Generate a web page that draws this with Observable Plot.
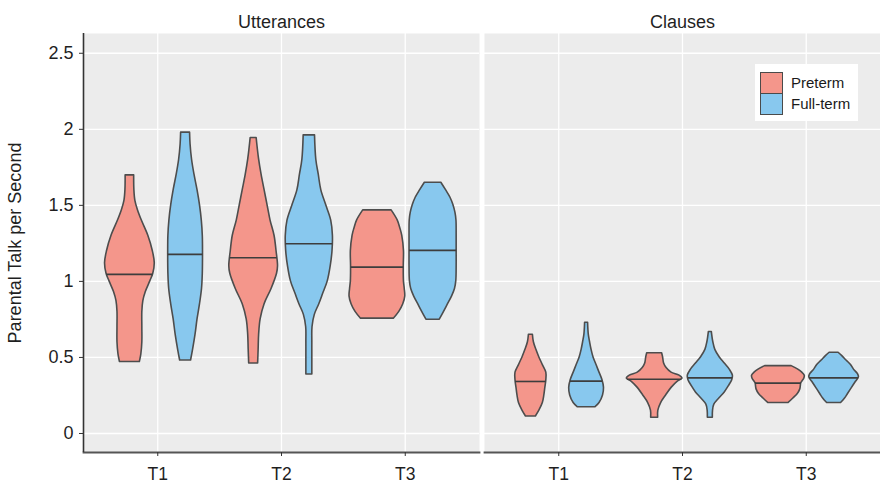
<!DOCTYPE html>
<html><head><meta charset="utf-8">
<script src="https://cdn.jsdelivr.net/npm/d3@7"></script>
<script src="https://cdn.jsdelivr.net/npm/@observablehq/plot@0.6"></script>
<style>
body{margin:0;background:#fff;font-family:"Liberation Sans",Arial,sans-serif;}
#wrap{position:relative;width:880px;height:485px;overflow:hidden;}
.legend{position:absolute;left:755px;top:64px;width:103px;height:57px;background:#fff;}
.sw{position:absolute;left:5px;width:21px;height:20px;border:1px solid #4a4a4a;}
.lt{position:absolute;left:36px;font-size:15px;color:#1a1a1a;line-height:21px;white-space:nowrap;}
</style></head><body><div id="wrap"></div>
<script>
const facets = ["Utterances", "Clauses"];
const times = ["T1", "T2", "T3"];
const groups = ["Preterm", "Full-term"];
const colors = ["#F4968B", "#88C8EE"];
const yTicks = [0, 0.5, 1, 1.5, 2, 2.5];

// violin density profiles: [value, relative density]
const uttT1Pre = [[0.47,10],[0.52,11.5],[0.6,12.5],[0.7,12.5],[0.8,12.5],[0.87,13.5],[0.93,16],[1.0,20.5],[1.05,23.5],[1.12,25],[1.2,23],[1.3,18.5],[1.4,12],[1.47,8],[1.53,5.5],[1.6,4.5],[1.697,4.3]];
const uttT1Full = [[0.48,5.5],[0.55,7.5],[0.65,10],[0.75,12],[0.85,14.5],[0.95,16.5],[1.05,17.3],[1.2,17.5],[1.3,17.3],[1.4,16.3],[1.5,14.5],[1.6,12],[1.7,9],[1.8,6.5],[1.9,5],[1.978,4.5]];
const uttT2Pre = [[0.46,4.5],[0.55,5],[0.65,5.5],[0.75,7],[0.85,11],[0.95,18],[1.05,23.5],[1.1,24.5],[1.2,23],[1.3,21],[1.4,17],[1.5,14],[1.6,11],[1.7,8],[1.8,5.5],[1.943,3]];
const uttT2Full = [[0.388,3],[0.5,3],[0.6,3],[0.7,3.2],[0.78,5.5],[0.85,10],[0.92,14],[1.0,18.5],[1.1,21.5],[1.2,23.3],[1.3,23.7],[1.4,22],[1.5,17],[1.6,12],[1.7,9.5],[1.8,7],[1.96,5.7]];
const uttT3Pre = [[0.755,16.5],[0.8,22],[0.85,26],[0.9,28],[0.95,27.5],[1.0,26.7],[1.1,26.5],[1.2,26.7],[1.3,25],[1.35,23],[1.4,20.5],[1.467,14.3]];
const uttT3Full = [[0.748,6.7],[0.8,11],[0.85,15],[0.9,19],[0.95,22],[1.0,23.3],[1.1,23.7],[1.2,23.7],[1.3,23.7],[1.4,23.5],[1.45,22.5],[1.5,20.5],[1.55,17.5],[1.6,13],[1.649,8.3]];
const clsT1Pre = [[0.112,5],[0.15,8.5],[0.2,12],[0.25,13.5],[0.3,14.5],[0.35,15.5],[0.4,15.5],[0.45,12],[0.5,8.5],[0.55,5.5],[0.6,3],[0.649,2]];
const clsT1Full = [[0.173,9],[0.2,13],[0.25,16.5],[0.3,17.5],[0.35,16],[0.4,13],[0.45,10],[0.5,7],[0.55,5],[0.6,3.5],[0.65,2.2],[0.728,1.5]];
const clsT2Pre = [[0.103,3.5],[0.15,3.7],[0.2,6.5],[0.25,11.5],[0.3,17],[0.34,23],[0.36,28],[0.38,25],[0.4,17],[0.43,12],[0.46,9.5],[0.5,8.5],[0.528,7.5]];
const clsT2Full = [[0.103,2.5],[0.15,2.7],[0.19,4],[0.23,9],[0.27,14.5],[0.31,18.5],[0.35,22],[0.38,22.7],[0.42,19.5],[0.46,14.5],[0.5,9.5],[0.55,5],[0.6,3],[0.667,1.5]];
const clsT3Pre = [[0.2,10],[0.23,15],[0.26,19.5],[0.29,22],[0.31,22.5],[0.33,23],[0.36,26],[0.38,26.5],[0.4,24],[0.42,20],[0.443,13.3]];
const clsT3Full = [[0.2,7],[0.23,11],[0.26,14],[0.3,18],[0.34,22],[0.37,25],[0.39,24],[0.42,20],[0.45,17],[0.48,12.5],[0.51,8],[0.531,4.5]];

// medians [time][group]
const uttMedians = [[1.046, 1.178], [1.156, 1.248], [1.094, 1.204]];
const clsMedians = [[0.342, 0.344], [0.357, 0.366], [0.331, 0.366]];

const profiles = [
  [[uttT1Pre, uttT1Full], [uttT2Pre, uttT2Full], [uttT3Pre, uttT3Full]],
  [[clsT1Pre, clsT1Full], [clsT2Pre, clsT2Full], [clsT3Pre, clsT3Full]]
];
const medians = [uttMedians, clsMedians];

const half = 0.225;
let maxD = 0;
profiles.forEach(f => f.forEach(t => t.forEach(p => p.forEach(([, d]) => { if (d > maxD) maxD = d; }))));

const rows = [], meds = [];
let id = 0;
facets.forEach((facet, fi) => {
  times.forEach((time, ti) => {
    groups.forEach((group, gi) => {
      const prof = profiles[fi][ti][gi];
      const med = medians[fi][ti][gi];
      const c = ti + 1 + (gi === 0 ? -half : half);
      prof.forEach(([v, d]) => rows.push({id, facet, group, value: v, lo: c - d / maxD * half, hi: c + d / maxD * half}));
      let w = 0;
      for (let k = 1; k < prof.length; k++) {
        const [v0, d0] = prof[k - 1], [v1, d1] = prof[k];
        if (med >= v0 && med <= v1) { w = d0 + (d1 - d0) * (med - v0) / (v1 - v0); break; }
      }
      meds.push({facet, value: med, lo: c - w / maxD * half, hi: c + w / maxD * half});
      id++;
    });
  });
});

const xDomain = [0.4, 3.6];
const chart = Plot.plot({
  width: 880, height: 485,
  marginLeft: 83, marginRight: 0, marginTop: 33, marginBottom: 33,
  style: {fontFamily: "'Liberation Sans', Arial, sans-serif", fontSize: "18px", color: "#1f1f1f", background: "transparent"},
  fx: {domain: facets, paddingInner: 0.0125, paddingOuter: 0, label: null},
  x: {domain: xDomain, label: null},
  y: {domain: [-0.125, 2.63], label: null},
  color: {domain: groups, range: colors},
  marks: [
    Plot.frame({fill: "#ECECEC"}),
    Plot.gridY(yTicks, {stroke: "white", strokeOpacity: 1, strokeWidth: 1.3}),
    Plot.gridX([1, 2, 3], {stroke: "white", strokeOpacity: 1, strokeWidth: 1.3}),
    Plot.areaX(rows, {fx: "facet", y: "value", x1: "lo", x2: "hi", z: "id", fill: "group", stroke: "#4d4d4d", strokeWidth: 1.6, curve: "catmull-rom"}),
    Plot.ruleY(meds, {fx: "facet", y: "value", x1: "lo", x2: "hi", stroke: "#3d3d3d", strokeWidth: 1.6}),
    Plot.frame({anchor: "bottom", stroke: "#555", strokeWidth: 1.8}),
    Plot.ruleX([facets[0]], {fx: d => d, x: () => xDomain[0], stroke: "#333", strokeWidth: 1.6}),
    Plot.axisY(yTicks, {tickFormat: d => String(d), tickSize: 4, tickPadding: 6, fontSize: 18, stroke: "#333",
      label: "Parental Talk per Second", labelAnchor: "center", labelArrow: "none", labelOffset: 75}),
    Plot.axisX([1, 2, 3], {tickFormat: d => times[d - 1], tickSize: 4, tickPadding: 11, fontSize: 17.5, stroke: "#333", label: null}),
    Plot.axisFx({anchor: "top", tickSize: 0, tickPadding: 6, fontSize: 18, label: null})
  ]
});
const wrap = document.getElementById("wrap");
wrap.appendChild(chart);

// legend
const lg = document.createElement("div");
lg.className = "legend";
groups.forEach((g, i) => {
  const sw = document.createElement("div");
  sw.className = "sw";
  sw.style.top = (8 + i * 21) + "px";
  sw.style.background = colors[i];
  lg.appendChild(sw);
  const t = document.createElement("div");
  t.className = "lt";
  t.style.top = (8 + i * 21) + "px";
  t.textContent = g;
  lg.appendChild(t);
});
wrap.appendChild(lg);
</script></body></html>
